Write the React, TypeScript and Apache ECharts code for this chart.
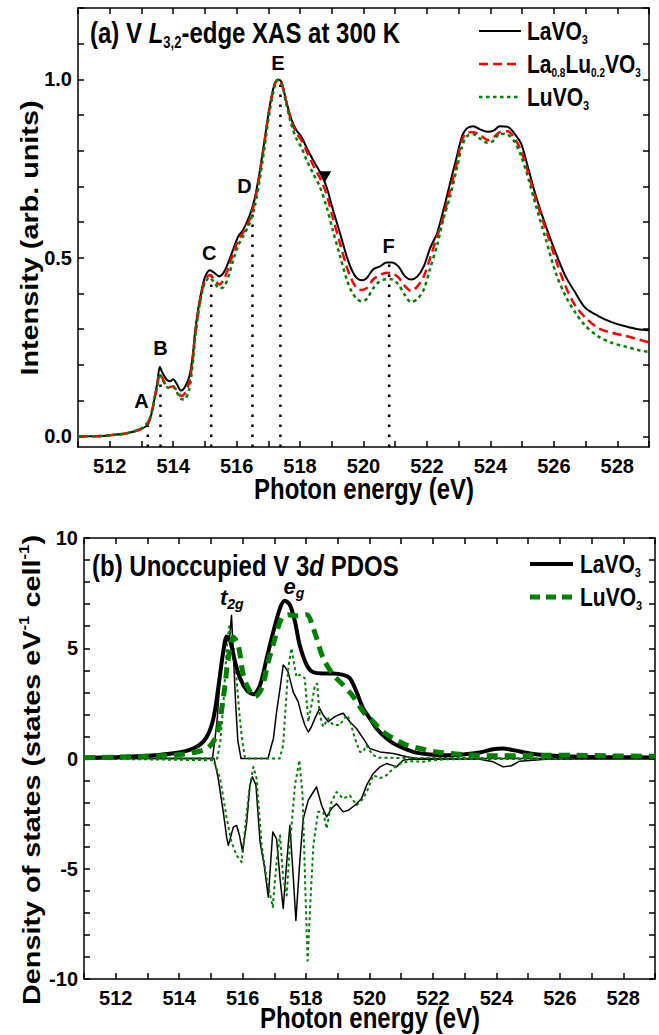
import React, { useEffect, useRef } from 'react';
import * as echarts from 'echarts';

const FONT = "'Liberation Sans', Arial, Helvetica, sans-serif";

// ---------- axes ----------
const X_MIN = 511;
const X_MAX = 529;
const xTickValues = [511, 512, 513, 514, 515, 516, 517, 518, 519, 520, 521, 522, 523, 524, 525, 526, 527, 528, 529];
const xLabelValues = [512, 514, 516, 518, 520, 522, 524, 526, 528];

const YA_MIN = -0.03;
const YA_MAX = 1.2;
const yaTickValues = [0, 0.1, 0.2, 0.3, 0.4, 0.5, 0.6, 0.7, 0.8, 0.9, 1.0, 1.1, 1.2];
const yaLabelValues = [0, 0.5, 1.0];

const YB_MIN = -10;
const YB_MAX = 10;
const ybTickValues = [-10, -9, -8, -7, -6, -5, -4, -3, -2, -1, 0, 1, 2, 3, 4, 5, 6, 7, 8, 9, 10];
const ybLabelValues = [-10, -5, 0, 5, 10];

// ---------- panel (a): V L3,2-edge XAS ----------
const xasEnergy = [
  511.0, 511.5, 512.0, 512.5, 512.8, 513.0, 513.2, 513.3, 513.4, 513.5,
  513.58, 513.65, 513.8, 513.9, 514.0, 514.1, 514.25, 514.35, 514.5, 514.6,
  514.7, 514.8, 514.9, 515.0, 515.15, 515.3, 515.45, 515.6, 515.75, 515.9,
  516.05, 516.2, 516.4, 516.56, 516.72, 516.88, 517.04, 517.2, 517.3, 517.41,
  517.57, 517.72, 517.88, 518.04, 518.2, 518.41, 518.62, 518.83, 519.04, 519.26,
  519.47, 519.63, 519.79, 519.94, 520.1, 520.31, 520.52, 520.73, 520.89, 521.1,
  521.31, 521.5, 521.7, 521.9, 522.1, 522.32, 522.52, 522.73, 522.94, 523.1,
  523.25, 523.46, 523.67, 523.93, 524.13, 524.29, 524.55, 524.76, 524.97, 525.18,
  525.44, 525.75, 526.06, 526.37, 526.68, 526.99, 527.4, 527.82, 528.23, 528.65,
  529.0,
];
const xasLaVO3 = [
  0.0, 0.0, 0.003, 0.008, 0.014, 0.02, 0.033, 0.056, 0.10, 0.15,
  0.195, 0.18, 0.158, 0.154, 0.16, 0.149, 0.128, 0.135, 0.165, 0.214,
  0.30, 0.363, 0.41, 0.445, 0.465, 0.458, 0.448, 0.46, 0.49, 0.525,
  0.56, 0.577, 0.616, 0.662, 0.737, 0.83, 0.923, 0.989, 1.0, 0.993,
  0.938, 0.89, 0.858, 0.84, 0.81, 0.774, 0.742, 0.70, 0.634, 0.569,
  0.504, 0.466, 0.443, 0.437, 0.443, 0.468, 0.476, 0.487, 0.487, 0.476,
  0.448, 0.439, 0.448, 0.476, 0.527, 0.569, 0.634, 0.709, 0.783, 0.839,
  0.862, 0.869, 0.86, 0.853, 0.858, 0.869, 0.867, 0.848, 0.82, 0.755,
  0.672, 0.588, 0.514, 0.448, 0.402, 0.36, 0.337, 0.32, 0.309, 0.30,
  0.297,
];
const xasLa08Lu02VO3 = [
  0.0, 0.0, 0.003, 0.008, 0.015, 0.022, 0.038, 0.06, 0.10, 0.145,
  0.175, 0.165, 0.14, 0.138, 0.14, 0.13, 0.113, 0.118, 0.15, 0.205,
  0.29, 0.355, 0.405, 0.435, 0.452, 0.44, 0.425, 0.44, 0.475, 0.515,
  0.55, 0.57, 0.605, 0.655, 0.73, 0.825, 0.92, 0.985, 1.0, 0.99,
  0.935, 0.885, 0.85, 0.83, 0.80, 0.76, 0.725, 0.68, 0.61, 0.54,
  0.475, 0.438, 0.415, 0.41, 0.415, 0.44, 0.452, 0.458, 0.457, 0.445,
  0.42, 0.407, 0.42, 0.448, 0.50, 0.56, 0.616, 0.69, 0.765, 0.83,
  0.85, 0.852, 0.844, 0.83, 0.84, 0.852, 0.855, 0.835, 0.80, 0.741,
  0.662, 0.579, 0.495, 0.42, 0.365, 0.333, 0.303, 0.29, 0.282, 0.272,
  0.263,
];
const xasLuVO3 = [
  0.0, 0.0, 0.003, 0.008, 0.015, 0.022, 0.038, 0.06, 0.10, 0.14,
  0.168, 0.16, 0.138, 0.135, 0.138, 0.125, 0.105, 0.103, 0.13, 0.19,
  0.28, 0.35, 0.40, 0.43, 0.445, 0.43, 0.415, 0.418, 0.45, 0.495,
  0.535, 0.56, 0.595, 0.64, 0.715, 0.81, 0.91, 0.98, 0.998, 0.99,
  0.93, 0.875, 0.835, 0.81, 0.775, 0.737, 0.70, 0.645, 0.575, 0.505,
  0.44, 0.405, 0.385, 0.378, 0.385, 0.415, 0.435, 0.44, 0.44, 0.425,
  0.395, 0.376, 0.385, 0.411, 0.47, 0.535, 0.61, 0.672, 0.75, 0.81,
  0.84, 0.846, 0.834, 0.822, 0.83, 0.848, 0.845, 0.825, 0.785, 0.727,
  0.644, 0.551, 0.458, 0.393, 0.346, 0.31, 0.28, 0.262, 0.252, 0.242,
  0.236,
];

// feature letters and dotted guide lines
const featureLabels = ['A', 'B', 'C', 'D', 'E', 'F'];
const featureLabelE = [513.0, 513.6, 515.14, 516.25, 517.3, 520.79];
const featureLabelI = [0.10, 0.247, 0.513, 0.70, 1.045, 0.534];
const guideE = [513.2, 513.6, 515.2, 516.5, 517.38, 520.81];
const guideTop = [0.03, 0.175, 0.455, 0.64, 0.985, 0.487];
const triangleE = [518.78];
const triangleI = [0.727];

// ---------- panel (b): unoccupied V 3d PDOS ----------
const broadLaE = [511, 512, 513, 514, 514.55, 514.87, 515.08, 515.23, 515.39, 515.5, 515.6, 515.76, 515.92, 516.13, 516.34, 516.55, 516.76, 516.97, 517.18, 517.33, 517.49, 517.65, 517.8, 518.02, 518.23, 518.54, 518.86, 519.17, 519.38, 519.59, 519.8, 520.01, 520.22, 520.54, 520.85, 521.38, 521.9, 522.43, 522.95, 523.48, 523.9, 524.21, 524.53, 525.05, 525.57, 526.63, 527.5, 529];
const broadLa = [0.03, 0.06, 0.12, 0.27, 0.53, 0.98, 1.82, 3.18, 4.85, 5.53, 5.38, 4.39, 3.64, 3.1, 2.91, 3.33, 4.55, 5.76, 6.82, 7.15, 6.97, 6.21, 5.15, 4.24, 3.91, 3.86, 3.86, 3.79, 3.64, 3.03, 2.27, 1.82, 1.36, 0.91, 0.61, 0.3, 0.18, 0.15, 0.18, 0.27, 0.42, 0.45, 0.38, 0.23, 0.15, 0.08, 0.06, 0.05];

const broadLuE = [511, 512, 513, 514.03, 514.87, 515.18, 515.39, 515.55, 515.71, 515.86, 516.02, 516.18, 516.39, 516.6, 516.81, 517.02, 517.23, 517.44, 517.7, 518.02, 518.23, 518.54, 518.86, 519.17, 519.49, 519.8, 520.12, 520.43, 520.75, 521.17, 521.7, 522.11, 522.95, 524, 525.57, 526.4, 527.5, 529];
const broadLu = [0.03, 0.06, 0.1, 0.18, 0.45, 1.06, 2.73, 4.55, 5.5, 5.15, 3.79, 3.18, 2.8, 3.18, 4.39, 5.45, 6.36, 6.52, 6.47, 6.52, 5.9, 4.55, 3.79, 3.33, 2.8, 2.12, 1.67, 1.21, 0.91, 0.61, 0.42, 0.3, 0.18, 0.12, 0.15, 0.15, 0.12, 0.1];

const upLaE = [511, 515.05, 515.13, 515.2, 515.29, 515.39, 515.5, 515.6, 515.65, 515.7, 515.78, 515.85, 515.95, 516.8, 516.91, 516.97, 517.07, 517.18, 517.28, 517.31, 517.43, 517.6, 517.75, 517.86, 517.96, 518.07, 518.17, 518.28, 518.43, 518.54, 518.7, 518.91, 519.01, 519.17, 519.38, 519.59, 519.8, 520.01, 520.33, 520.75, 521.17, 521.5, 529];
const upLa = [0, 0, 0.9, 1.8, 3.6, 5.0, 5.3, 5.6, 6.5, 5.0, 2.5, 0.8, 0, 0, 0.6, 0.9, 2.1, 3.18, 4.24, 4.2, 3.94, 3.0, 2.58, 1.97, 1.52, 1.2, 1.44, 1.82, 2.27, 1.97, 1.67, 1.9, 1.97, 2.05, 1.67, 1.36, 0.91, 0.45, 0.3, 0.23, 0.08, 0, 0];

const downLaE = [511, 515.1, 515.23, 515.39, 515.5, 515.55, 515.71, 515.81, 515.9, 516.0, 516.13, 516.23, 516.31, 516.42, 516.55, 516.68, 516.81, 516.95, 517.07, 517.18, 517.28, 517.39, 517.49, 517.6, 517.68, 517.8, 517.91, 518.07, 518.23, 518.33, 518.49, 518.65, 518.8, 518.96, 519.17, 519.33, 519.54, 519.75, 519.91, 520.12, 520.33, 520.54, 520.7, 520.85, 521.06, 521.27, 523.48, 523.9, 524.21, 524.47, 524.73, 525.57, 529];
const downLa = [0, 0, -0.9, -2.42, -3.6, -3.94, -3.1, -3.03, -3.48, -4.24, -2.88, -1.21, -0.83, -1.21, -3.79, -4.85, -6.29, -3.33, -3.64, -5.45, -6.8, -4.7, -3.03, -5.45, -7.35, -4.7, -2.73, -1.89, -1.52, -1.29, -2.12, -2.65, -2.27, -2.05, -2.42, -2.35, -2.12, -1.82, -1.21, -0.68, -0.38, -0.23, -0.3, -0.38, -0.08, -0.03, -0.03, -0.15, -0.38, -0.33, -0.12, -0.03, 0];

const upLuE = [511, 515.2, 515.3, 515.39, 515.5, 515.58, 515.65, 515.72, 515.81, 515.9, 515.97, 516.07, 516.12, 517.17, 517.28, 517.33, 517.44, 517.54, 517.62, 517.7, 517.8, 517.96, 518.07, 518.17, 518.28, 518.35, 518.43, 518.54, 518.7, 518.85, 519.07, 519.28, 519.38, 519.54, 519.7, 519.8, 519.9, 520.11, 520.3, 529];
const upLu = [0, 0, 0.8, 2.4, 5.0, 6.0, 5.6, 5.0, 3.6, 2.0, 1.0, 0.05, 0, 0, 0.6, 1.8, 4.1, 5.0, 4.3, 3.7, 3.8, 3.64, 1.67, 2.4, 3.33, 3.4, 1.97, 1.44, 1.82, 1.52, 1.52, 1.97, 1.74, 0.91, 0.3, 0.3, 0.6, 0.15, 0.03, 0];

const downLuE = [511, 515.08, 515.29, 515.5, 515.65, 515.81, 515.97, 516.13, 516.23, 516.34, 516.44, 516.6, 516.76, 516.95, 517.07, 517.18, 517.28, 517.39, 517.49, 517.65, 517.79, 517.89, 518.0, 518.05, 518.12, 518.23, 518.38, 518.54, 518.65, 518.8, 518.96, 519.17, 519.38, 519.59, 519.8, 519.96, 520.12, 520.33, 520.54, 520.75, 520.96, 521.27, 521.7, 522.0, 522.5, 529];
const downLu = [0, -0.08, -0.9, -2.73, -3.79, -4.39, -4.7, -2.42, -1.21, -0.38, -0.9, -3.94, -5.45, -6.74, -4.7, -3.48, -5.45, -6.21, -3.94, -1.21, -0.08, -1.67, -6.97, -9.17, -6.97, -3.94, -2.42, -2.42, -3.18, -1.97, -1.52, -1.82, -1.67, -2.12, -1.82, -1.36, -0.76, -0.9, -0.76, -0.45, -0.23, -0.12, -0.15, -0.08, -0.03, 0];

// band labels in panel (b)
const bandLabels = ['{i|t}{s|2g}', '{i|e}{s|g}'];
const bandLabelE = [515.66, 517.62];
const bandLabelV = [7.3, 7.8];

// ---------- styling helpers ----------
const RED = '#ff0000';
const GREEN = '#008000';
const STRETCH = 1.2;

const zip = (xs: number[], ys: number[]) => xs.map((x, i) => [x, ys[i]]);

function rich(size: number, sub: number) {
  const lh = Math.round(size * 1.2);
  const off = size * 0.38;
  const subLh = Math.max(4, Math.round(2 * (lh / 2 - off)));
  const base = { fontFamily: FONT, fontWeight: 'bold', fill: '#000', color: '#000' };
  return {
    n: { ...base, fontSize: size, lineHeight: lh },
    i: { ...base, fontSize: size, lineHeight: lh, fontStyle: 'italic' },
    s: { ...base, fontSize: sub, lineHeight: subLh, verticalAlign: 'bottom' },
    si: { ...base, fontSize: sub, lineHeight: subLh, verticalAlign: 'bottom', fontStyle: 'italic' },
    p: { ...base, fontSize: sub, lineHeight: subLh, verticalAlign: 'top' },
  };
}

function gText(x: number, y: number, text: string, size: number, sub: number, align: string, rotate = false) {
  return {
    type: 'text',
    x,
    y,
    rotation: rotate ? Math.PI / 2 : 0,
    scaleX: rotate ? STRETCH : 1,
    scaleY: rotate ? 1 : STRETCH,
    silent: true,
    z: 100,
    style: {
      text,
      rich: rich(size, sub),
      align,
      textAlign: align,
      verticalAlign: 'middle',
      textVerticalAlign: 'middle',
      fill: '#000',
      font: `bold ${size}px ${FONT}`,
    },
  };
}

function gLine(x1: number, x2: number, y: number, color: string, width: number, dash?: number[]) {
  return {
    type: 'line',
    silent: true,
    z: 100,
    shape: { x1, y1: y, x2, y2: y },
    style: { stroke: color, lineWidth: width, lineDash: dash || null },
  };
}

const axisLineStyle = { color: '#000', width: 1.5 };
const tickLine = { color: '#000', width: 1.5 };
const tickLabel = { color: '#000', fontWeight: 'bold' as const, fontSize: 20, fontFamily: FONT };

function xAxesFor(gridIndex: number) {
  const base = {
    type: 'value',
    gridIndex,
    min: X_MIN,
    max: X_MAX,
    splitLine: { show: false },
    axisLine: { show: true, onZero: false, lineStyle: axisLineStyle },
  };
  const tick = { show: true, inside: true, length: 6, lineStyle: tickLine, customValues: xTickValues };
  return [
    { ...base, position: 'bottom', axisTick: tick, axisLabel: { show: true, margin: 9, customValues: xLabelValues, ...tickLabel } },
    { ...base, position: 'top', axisTick: tick, axisLabel: { show: false } },
  ];
}

function yAxesFor(gridIndex: number, min: number, max: number, ticks: number[], labels: number[], fmt: (v: number) => string) {
  const base = {
    type: 'value',
    gridIndex,
    min,
    max,
    splitLine: { show: false },
    axisLine: { show: true, onZero: false, lineStyle: axisLineStyle },
  };
  const tick = { show: true, inside: true, length: 6, lineStyle: tickLine, customValues: ticks };
  return [
    { ...base, position: 'left', axisTick: tick, axisLabel: { show: true, margin: 6, customValues: labels, formatter: fmt, ...tickLabel } },
    { ...base, position: 'right', axisTick: tick, axisLabel: { show: false } },
  ];
}

function lineSeries(name: string, xs: number[], ys: number[], xi: number, yi: number, color: string, width: number, dash: any, smooth: number | boolean, z = 2) {
  return {
    type: 'line',
    name,
    xAxisIndex: xi,
    yAxisIndex: yi,
    data: zip(xs, ys),
    symbol: 'none',
    showSymbol: false,
    smooth,
    silent: true,
    z,
    lineStyle: { color, width, type: dash, cap: 'butt', join: 'round' },
    itemStyle: { color },
  };
}

function buildOption() {
  const series: any[] = [];

  // guide dotted lines in panel (a)
  guideE.forEach((e, i) => {
    series.push({
      type: 'line',
      xAxisIndex: 0,
      yAxisIndex: 0,
      data: [[e, YA_MIN], [e, guideTop[i]]],
      symbol: 'none',
      silent: true,
      z: 1,
      lineStyle: { color: '#000', width: 2.5, type: [2.5, 7.5] },
    });
  });

  series.push(lineSeries('LaVO3', xasEnergy, xasLaVO3, 0, 0, '#000', 2, 'solid', 0.3, 3));
  series.push(lineSeries('La0.8Lu0.2VO3', xasEnergy, xasLa08Lu02VO3, 0, 0, RED, 2.5, [9, 5], 0.3, 4));
  series.push(lineSeries('LuVO3', xasEnergy, xasLuVO3, 0, 0, GREEN, 2.5, [3.5, 3.5], 0.3, 5));

  // feature letters
  series.push({
    type: 'scatter',
    xAxisIndex: 0,
    yAxisIndex: 0,
    silent: true,
    z: 6,
    symbolSize: 0,
    itemStyle: { color: '#000', opacity: 1 },
    data: featureLabels.map((t, i) => ({ name: t, value: [featureLabelE[i], featureLabelI[i]] })),
    label: { show: true, position: 'inside', formatter: '{b}', color: '#000', opacity: 1, fontWeight: 'bold', fontSize: 20, fontFamily: FONT },
  });
  // filled triangle marker
  series.push({
    type: 'scatter',
    xAxisIndex: 0,
    yAxisIndex: 0,
    silent: true,
    z: 6,
    symbol: 'triangle',
    symbolRotate: 180,
    symbolSize: [13, 11],
    itemStyle: { color: '#000', opacity: 1 },
    data: zip(triangleE, triangleI),
  });

  // panel (b)
  series.push(lineSeries('LaVO3 up', upLaE, upLa, 2, 2, '#000', 1.5, 'solid', false, 2));
  series.push(lineSeries('LaVO3 down', downLaE, downLa, 2, 2, '#000', 1.5, 'solid', false, 2));
  series.push(lineSeries('LuVO3 up', upLuE, upLu, 2, 2, GREEN, 2, [3, 3], false, 3));
  series.push(lineSeries('LuVO3 down', downLuE, downLu, 2, 2, GREEN, 2, [3, 3], false, 3));
  series.push(lineSeries('LaVO3 broadened', broadLaE, broadLa, 2, 2, '#000', 4, 'solid', 0.3, 4));
  series.push(lineSeries('LuVO3 broadened', broadLuE, broadLu, 2, 2, GREEN, 5, [11, 7], 0.3, 5));

  series.push({
    type: 'scatter',
    xAxisIndex: 2,
    yAxisIndex: 2,
    silent: true,
    z: 6,
    symbolSize: 0,
    itemStyle: { color: '#000', opacity: 1 },
    data: bandLabels.map((t, i) => ({ name: t, value: [bandLabelE[i], bandLabelV[i]] })),
    label: {
      show: true,
      position: 'inside',
      formatter: '{b}',
      opacity: 1,
      color: '#000',
      rich: {
        i: { fontFamily: FONT, fontWeight: 'bold', fontStyle: 'italic', fontSize: 22, lineHeight: 26, color: '#000' },
        s: { fontFamily: FONT, fontWeight: 'bold', fontStyle: 'italic', fontSize: 14, lineHeight: 8, verticalAlign: 'bottom', color: '#000' },
      },
    },
  });

  const graphic: any[] = [
    // panel (a) title & legend
    gText(90, 33, '{n|(a) V }{i|L}{s|3,2}{n|-edge XAS at 300 K}', 24, 13, 'left'),
    gLine(479, 521, 31, '#000', 2),
    gLine(479, 521, 64, RED, 2.5, [9, 5]),
    gLine(479, 521, 97, GREEN, 2.5, [3.5, 3.5]),
    gText(527, 31, '{n|LaVO}{s|3}', 21, 11, 'left'),
    gText(527, 64, '{n|La}{s|0.8}{n|Lu}{s|0.2}{n|VO}{s|3}', 21, 10, 'left'),
    gText(527, 97, '{n|LuVO}{s|3}', 21, 11, 'left'),
    // panel (b) title & legend
    gText(92, 566, '{n|(b) Unoccupied V 3}{i|d}{n| PDOS}', 24, 13, 'left'),
    gLine(530, 573, 564, '#000', 4),
    gLine(530, 573, 597, GREEN, 5, [10, 6]),
    gText(580, 564, '{n|LaVO}{s|3}', 21, 11, 'left'),
    gText(580, 597, '{n|LuVO}{s|3}', 21, 11, 'left'),
    // axis titles
    gText(364, 489, '{n|Photon energy (eV)}', 24, 13, 'center'),
    gText(370, 1018, '{n|Photon energy (eV)}', 24, 13, 'center'),
    gText(30, 238, '{n|Intensity (arb. units)}', 24, 13, 'center', true),
    gText(32, 770, '{n|Density of states (states eV}{p|-1}{n| cell}{p|-1}{n|)}', 24, 14, 'center', true),
  ];

  return {
    animation: false,
    backgroundColor: '#fff',
    textStyle: { fontFamily: FONT },
    grid: [
      { left: 78, top: 8, width: 571, height: 439, containLabel: false },
      { left: 84, top: 538, width: 571, height: 441, containLabel: false },
    ],
    xAxis: [...xAxesFor(0), ...xAxesFor(1)],
    yAxis: [
      ...yAxesFor(0, YA_MIN, YA_MAX, yaTickValues, yaLabelValues, (v: number) => v.toFixed(1)),
      ...yAxesFor(1, YB_MIN, YB_MAX, ybTickValues, ybLabelValues, (v: number) => String(Math.round(v))),
    ],
    series,
    graphic,
  };
}

export default function App() {
  const ref = useRef<HTMLDivElement>(null);
  useEffect(() => {
    if (!ref.current) return;
    const chart = echarts.init(ref.current, null, { renderer: 'svg' });
    chart.setOption(buildOption() as any);
    return () => chart.dispose();
  }, []);
  return (
    <div
      ref={ref}
      style={{ position: 'fixed', left: 0, top: 0, width: 659, height: 1035, background: '#fff' }}
    />
  );
}
